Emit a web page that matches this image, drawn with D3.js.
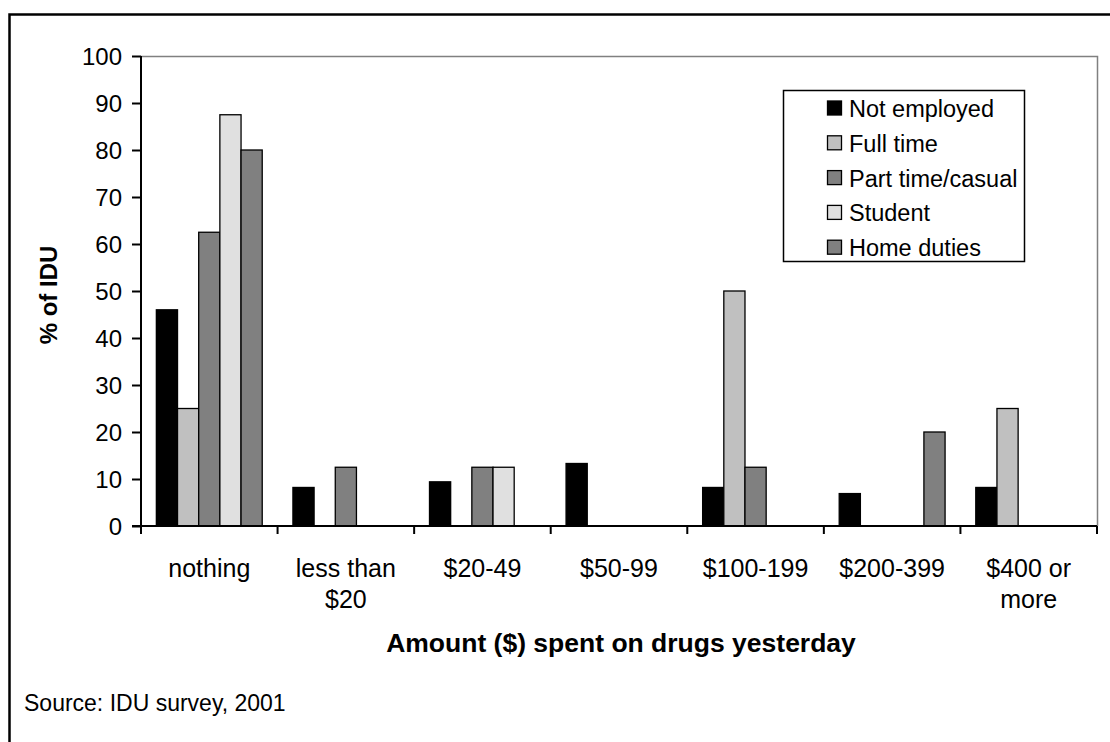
<!DOCTYPE html>
<html>
<head>
<meta charset="utf-8">
<script src="https://cdn.jsdelivr.net/npm/d3@7"></script>
<style>
  html, body { margin: 0; padding: 0; background: #fff; overflow: hidden; }
  svg { display: block; font-family: Arial, "Liberation Sans", sans-serif; }
</style>
</head>
<body>
<svg id="chart" width="1110" height="742"></svg>
<script>
const categories = ["nothing", "less than $20", "$20-49", "$50-99", "$100-199", "$200-399", "$400 or more"];
const categoryLines = [["nothing"], ["less than", "$20"], ["$20-49"], ["$50-99"], ["$100-199"], ["$200-399"], ["$400 or", "more"]];
const seriesNames = ["Not employed", "Full time", "Part time/casual", "Student", "Home duties"];
const seriesColors = ["#000000", "#c0c0c0", "#808080", "#e0e0e0", "#808080"];
const notEmployed = [46, 8.2, 9.4, 13.3, 8.2, 6.9, 8.2];
const fullTime = [25, 0, 0, 0, 50, 0, 25];
const partTime = [62.5, 12.5, 12.5, 0, 12.5, 0, 0];
const student = [87.5, 0, 12.5, 0, 0, 0, 0];
const homeDuties = [80, 0, 0, 0, 0, 20, 0];
const yTicks = [0, 10, 20, 30, 40, 50, 60, 70, 80, 90, 100];

const seriesValues = [notEmployed, fullTime, partTime, student, homeDuties];

(function () {
const svg = d3.select("#chart");
const pLeft = 141, pRight = 1097, pTop = 56, pBottom = 526;
const FONT = "Arial, 'Liberation Sans', sans-serif";

// outer frame (left & top edges visible)
svg.append("path").attr("d", "M9.5,742V14.5H1110")
  .attr("fill", "none").attr("stroke", "#000").attr("stroke-width", 2.5);

const x = d3.scaleBand().domain(categories).range([pLeft, pRight]).paddingInner(0).paddingOuter(0);
const barW = x.bandwidth() / 6.45;
const xs = d3.scaleBand().domain(seriesNames).range([0, barW * 5]);
const y = d3.scaleLinear().domain([0, 100]).range([pBottom, pTop]);

// plot area border (top & right gray)
svg.append("path")
  .attr("d", `M${pLeft},${pTop + 0.5}H${pRight + 0.5}V${pBottom}`)
  .attr("fill", "none").attr("stroke", "#808080").attr("stroke-width", 1.5);

// bars
const groups = svg.append("g");
categories.forEach((c, ci) => {
  const gx = x(c) + (x.bandwidth() - barW * 5) / 2;
  seriesValues.forEach((vals, si) => {
    const v = vals[ci];
    if (!v) return;
    groups.append("rect")
      .attr("x", gx + xs(seriesNames[si]))
      .attr("y", y(v))
      .attr("width", xs.bandwidth())
      .attr("height", y(0) - y(v))
      .attr("fill", seriesColors[si])
      .attr("stroke", "#000")
      .attr("stroke-width", 1.3);
  });
});

// y axis
const yAxis = d3.axisLeft(y).tickValues(yTicks).tickSize(9).tickPadding(10);
const gy = svg.append("g").attr("transform", `translate(${pLeft},0)`).call(yAxis);
gy.select(".domain").attr("stroke", "#000").attr("stroke-width", 2).attr("d", `M0,${pTop}V${pBottom}`);
gy.selectAll(".tick line").attr("stroke", "#000").attr("stroke-width", 2);
gy.selectAll(".tick text").attr("font-size", 24).attr("fill", "#000").attr("font-family", FONT).attr("dy", "0.34em");

// x axis
const gxAxis = svg.append("g").attr("transform", `translate(0,${pBottom})`);
gxAxis.append("line").attr("x1", pLeft - 9).attr("x2", pRight).attr("stroke", "#000").attr("stroke-width", 2);
const boundaries = categories.map(c => x(c)).concat([pRight]);
gxAxis.selectAll("line.tk").data(boundaries).join("line").attr("class", "tk")
  .attr("x1", d => d).attr("x2", d => d).attr("y1", 0).attr("y2", 8)
  .attr("stroke", "#000").attr("stroke-width", 2);
categories.forEach((c, ci) => {
  const cx = x(c) + x.bandwidth() / 2;
  const t = gxAxis.append("text").attr("x", cx).attr("y", 51)
    .attr("text-anchor", "middle").attr("font-size", 25).attr("fill", "#000");
  categoryLines[ci].forEach((ln, li) => {
    t.append("tspan").attr("x", cx).attr("dy", li === 0 ? 0 : 31).text(ln);
  });
});

// axis titles
svg.append("text").attr("x", 621).attr("y", 652).attr("text-anchor", "middle")
  .attr("font-size", 26.5).attr("font-weight", "bold").text("Amount ($) spent on drugs yesterday");
svg.append("text").attr("transform", "translate(57,295) rotate(-90)").attr("text-anchor", "middle")
  .attr("font-size", 24).attr("font-weight", "bold").text("% of IDU");

// source
svg.append("text").attr("x", 24).attr("y", 711).attr("font-size", 23).text("Source: IDU survey, 2001");

// legend
const lg = svg.append("g");
lg.append("rect").attr("x", 783.5).attr("y", 90.5).attr("width", 241).attr("height", 171)
  .attr("fill", "#fff").attr("stroke", "#000").attr("stroke-width", 1.5);
seriesNames.forEach((n, i) => {
  const base = 117 + i * 34.8;
  lg.append("rect").attr("x", 827.5).attr("y", base - 16).attr("width", 14).attr("height", 14)
    .attr("fill", seriesColors[i]).attr("stroke", "#000").attr("stroke-width", 1.3);
  lg.append("text").attr("x", 849).attr("y", base).attr("font-size", 23.5).text(n);
});
})();
</script>
</body>
</html>
